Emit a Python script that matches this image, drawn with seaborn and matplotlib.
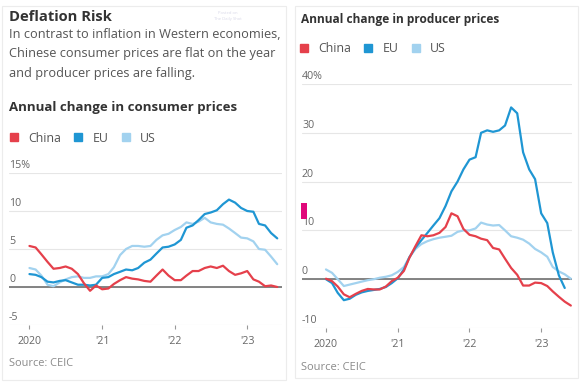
import pandas as pd
import numpy as np
import matplotlib.pyplot as plt
import seaborn as sns
from matplotlib.lines import Line2D
from matplotlib.patches import Rectangle

# Monthly data, Jan 2020 onward (annual % change)
dates = pd.date_range("2020-01-01", periods=42, freq="MS")

cpi_china = [5.4, 5.2, 4.3, 3.3, 2.4, 2.5, 2.7, 2.4, 1.7, 0.5, -0.5, 0.2,
             -0.3, -0.2, 0.4, 0.9, 1.3, 1.1, 1.0, 0.8, 0.7, 1.5, 2.3, 1.5,
             0.9, 0.9, 1.5, 2.1, 2.1, 2.5, 2.7, 2.5, 2.8, 2.1, 1.6, 1.8,
             2.1, 1.0, 0.7, 0.1, 0.2, 0.0]
cpi_eu = [1.7, 1.6, 1.3, 0.7, 0.6, 0.8, 0.9, 0.6, 0.3, 0.3, 0.2, 0.3,
          1.2, 1.3, 1.7, 2.0, 2.3, 2.2, 2.5, 3.2, 3.6, 4.4, 5.2, 5.3,
          5.6, 6.2, 7.8, 8.1, 8.8, 9.6, 9.8, 10.1, 10.9, 11.5, 11.1, 10.4,
          10.0, 9.9, 8.3, 8.1, 7.1, 6.4]
cpi_us = [2.5, 2.3, 1.5, 0.3, 0.1, 0.6, 1.0, 1.3, 1.4, 1.2, 1.2, 1.4,
          1.4, 1.7, 2.6, 4.2, 5.0, 5.4, 5.4, 5.3, 5.4, 6.2, 6.8, 7.0,
          7.5, 7.9, 8.5, 8.3, 8.6, 9.1, 8.5, 8.3, 8.2, 7.7, 7.1, 6.5,
          6.4, 6.0, 5.0, 4.9, 4.0, 3.0]

ppi_china = [0.1, -0.4, -1.5, -3.1, -3.7, -3.0, -2.4, -2.0, -2.1, -2.1, -1.5, -0.4,
             0.3, 1.7, 4.4, 6.8, 9.0, 8.8, 9.0, 9.5, 10.7, 13.5, 12.9, 10.3,
             9.1, 8.8, 8.3, 8.0, 6.4, 6.1, 4.2, 2.3, 0.9, -1.3, -1.3, -0.7,
             -0.8, -1.4, -2.5, -3.6, -4.6, -5.4]
ppi_eu = [0.0, -0.8, -2.8, -4.3, -4.0, -3.2, -2.7, -2.4, -2.2, -2.0, -1.6, -0.8,
          0.2, 2.0, 4.5, 6.5, 8.0, 9.5, 11.0, 12.5, 15.0, 18.0, 20.0, 22.5,
          24.5, 25.0, 30.0, 30.5, 30.2, 30.5, 31.5, 35.2, 34.0, 26.0, 22.5, 20.5,
          13.5, 11.5, 5.5, 0.8, -1.8, np.nan]
ppi_us = [2.0, 1.3, 0.0, -1.4, -1.1, -0.8, -0.5, -0.2, 0.0, 0.3, 0.5, 0.8,
          1.5, 2.5, 4.5, 6.2, 7.2, 7.8, 8.2, 8.5, 8.7, 8.9, 9.7, 10.0,
          10.0, 10.4, 11.6, 11.2, 11.0, 11.1, 10.0, 8.8, 8.5, 8.1, 7.3, 6.2,
          5.5, 4.6, 2.5, 1.6, 1.0, 0.1]

series = ["China", "EU", "US"]
colors = {"China": "#e5404b", "EU": "#1f96d3", "US": "#a2d2ef"}

year_ticks = pd.to_datetime(["2020-01-01", "2021-01-01", "2022-01-01", "2023-01-01"])
year_labels = ["2020", "'21", "'22", "'23"]
cpi_ticks = [15, 10, 5, 0, -5]
ppi_ticks = [40, 30, 20, 10, 0, -10]

W, H = 587, 384

sns.set_theme(style="white")
plt.rcParams["font.family"] = ["Open Sans", "DejaVu Sans"]


def long_df(china, eu, us):
    d = pd.DataFrame({"date": dates, "China": china, "EU": eu, "US": us})
    return d.melt(id_vars="date", var_name="series", value_name="value").dropna()


def px(x, y):
    return x / W, 1 - y / H


def axes_box(x0, y0, x1, y1):
    return [x0 / W, 1 - y1 / H, (x1 - x0) / W, (y1 - y0) / H]


def fit(texts, width_px):
    # scale font so the first text spans width_px pixels
    r = fig.canvas.get_renderer()
    w = texts[0].get_window_extent(r).width
    size = texts[0].get_fontsize() * width_px / w
    for t in texts:
        t.set_fontsize(size)


def style_axes(ax, yticks, ylim, xlim):
    ax.set_ylim(*ylim)
    ax.set_xlim(*xlim)
    sns.despine(ax=ax, left=True, bottom=True)
    ax.set_yticks([])
    for v in yticks:
        ax.axhline(v, color="#e6e6e6", lw=0.8, zorder=0)
    ax.axhline(0, color="#7a7a7a", lw=1.3, zorder=1)
    for i, v in enumerate(yticks):
        lab = f"{v}%" if i == 0 else str(v)
        ax.annotate(lab, xy=(0, v), xycoords=("axes fraction", "data"),
                    xytext=(0, 1.5), textcoords="offset points",
                    ha="left", va="bottom", fontsize=7.7, color="#666666")
    ax.set_xticks(year_ticks)
    ax.set_xticklabels(year_labels)
    ax.tick_params(axis="x", bottom=True, length=3, width=0.8, color="#999999",
                   pad=5, labelsize=7.7, labelcolor="#666666")
    ax.set_xlabel("")
    ax.set_ylabel("")


fig = plt.figure(figsize=(W / 100, H / 100), dpi=100)
fig.patch.set_facecolor("white")

# panel cards
for (x0, y0, x1, y1) in [(2, 6, 286, 380), (295, 6, 578, 378)]:
    fig.patches.append(Rectangle(px(x0, y1), (x1 - x0) / W, (y1 - y0) / H,
                                 transform=fig.transFigure, fill=False,
                                 edgecolor="#ececec", lw=0.8))

# left: consumer prices
ax1 = fig.add_axes(axes_box(9, 173, 282, 325))
sns.lineplot(data=long_df(cpi_china, cpi_eu, cpi_us), x="date", y="value",
             hue="series", hue_order=["US", "EU", "China"], palette=colors,
             linewidth=1.6, legend=False, ax=ax1)
style_axes(ax1, cpi_ticks, (-5, 15),
           (pd.Timestamp("2019-09-20"), pd.Timestamp("2023-06-25")))

# right: producer prices
ax2 = fig.add_axes(axes_box(302, 84, 572, 328))
sns.lineplot(data=long_df(ppi_china, ppi_eu, ppi_us), x="date", y="value",
             hue="series", hue_order=["US", "EU", "China"], palette=colors,
             linewidth=1.6, legend=False, ax=ax2)
style_axes(ax2, ppi_ticks, (-10, 40),
           (pd.Timestamp("2019-09-01"), pd.Timestamp("2023-06-07")))

# titles and notes
title = fig.text(*px(9, 17), "Deflation Risk", fontsize=10, fontweight="bold",
                 color="#333333", va="center")
subtitle = ["In contrast to inflation in Western economies,",
            "Chinese consumer prices are flat on the year",
            "and producer prices are falling."]
sub = [fig.text(*px(9, 35 + i * 19), line, fontsize=8.5, color="#555555", va="center")
       for i, line in enumerate(subtitle)]
t_cpi = fig.text(*px(9, 107), "Annual change in consumer prices", fontsize=9,
                 fontweight="bold", color="#333333", va="center")
t_ppi = fig.text(*px(301, 19), "Annual change in producer prices", fontsize=8,
                 fontweight="bold", color="#333333", va="center")
s1 = fig.text(*px(9, 363), "Source: CEIC", fontsize=7.5, color="#8a8a8a", va="center")
s2 = fig.text(*px(301, 367), "Source: CEIC", fontsize=7.5, color="#8a8a8a", va="center")
fig.text(*px(228, 16), "Posted on\nThe Daily Shot", fontsize=3, color="#d8d8e8",
         va="center", ha="center", linespacing=1.6)

fit([title], 103)
fit(sub, 269)
fit([t_cpi], 227)
fit([t_ppi], 199)
fit([s1], 64)
fit([s2], 65)

# legends
handles = [Line2D([], [], marker="s", linestyle="none", markersize=6,
                  color=colors[s]) for s in series]
for (lx, ly) in [(9, 138), (299, 49)]:
    fig.legend(handles, series, loc="center left", bbox_to_anchor=px(lx, ly),
               ncol=3, frameon=False, fontsize=8.9, handlelength=0.8,
               handletextpad=0.75, columnspacing=1.0, borderpad=0,
               borderaxespad=0, labelcolor="#555555")

# stray marker from the source screenshot
fig.patches.append(Rectangle(px(301, 219), 6 / W, 16 / H,
                             transform=fig.transFigure, color="#e0087a", lw=0))

fig.savefig("out.png", dpi=100)
